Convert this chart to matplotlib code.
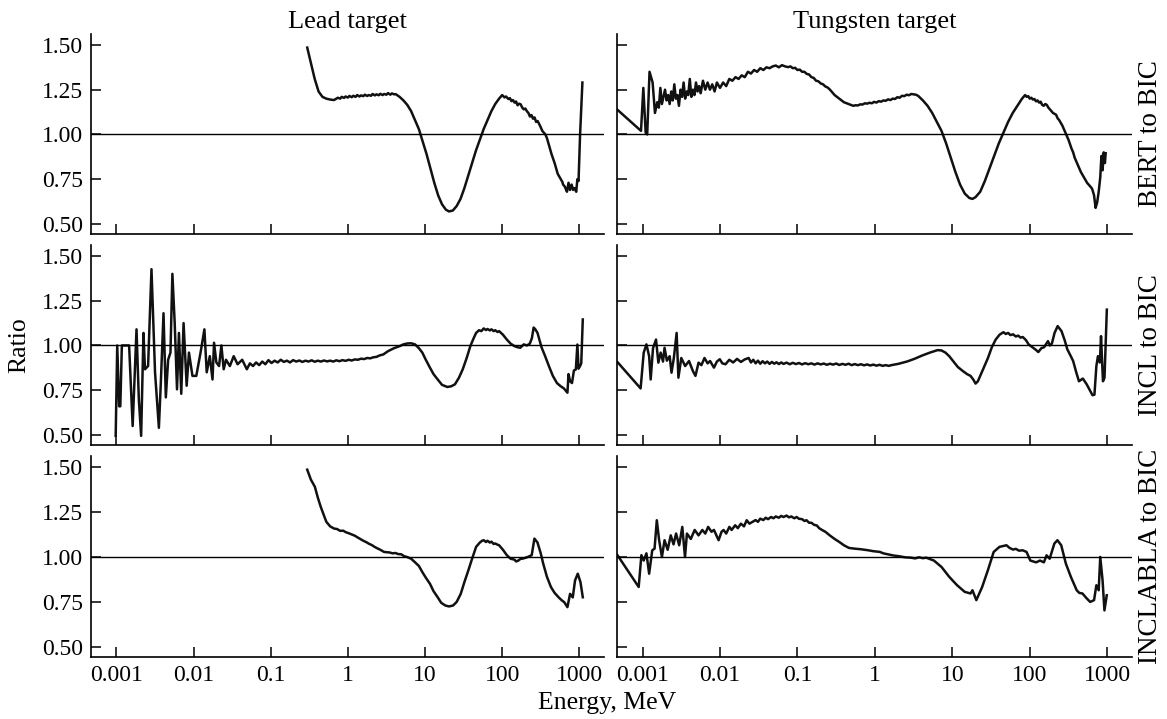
import matplotlib.pyplot as plt
import numpy as np

plt.rcParams['font.family'] = ['Liberation Serif', 'DejaVu Serif']

# (log10 of energy in MeV, ratio) pairs

lead_bert = [(-0.527, 1.485), (-0.48, 1.40), (-0.43, 1.31), (-0.38, 1.24), (-0.33, 1.21), (-0.28, 1.20),
             (-0.23, 1.195), (-0.18, 1.192), (-0.13, 1.205), (-0.10, 1.2), (-0.08, 1.21), (-0.05, 1.204),
             (-0.03, 1.212), (0.0, 1.206), (0.02, 1.215), (0.05, 1.208), (0.07, 1.216), (0.10, 1.21),
             (0.12, 1.22), (0.15, 1.212), (0.17, 1.218), (0.20, 1.214), (0.22, 1.222), (0.25, 1.215),
             (0.27, 1.22), (0.30, 1.216), (0.32, 1.226), (0.35, 1.218), (0.37, 1.224), (0.40, 1.219),
             (0.42, 1.227), (0.45, 1.22), (0.47, 1.226), (0.50, 1.222), (0.52, 1.231), (0.55, 1.222),
             (0.57, 1.229), (0.60, 1.224), (0.62, 1.225), (0.67, 1.21), (0.72, 1.19), (0.77, 1.165),
             (0.82, 1.13), (0.87, 1.08), (0.92, 1.03), (0.97, 0.96), (1.02, 0.89), (1.07, 0.81), (1.12, 0.73),
             (1.17, 0.66), (1.22, 0.61), (1.27, 0.58), (1.31, 0.57), (1.36, 0.575), (1.41, 0.60), (1.46, 0.64),
             (1.51, 0.70), (1.56, 0.77), (1.61, 0.84), (1.66, 0.91), (1.71, 0.97), (1.76, 1.03), (1.81, 1.08),
             (1.86, 1.13), (1.91, 1.17), (1.96, 1.20), (2.00, 1.22), (2.03, 1.207), (2.05, 1.212),
             (2.08, 1.198), (2.10, 1.203), (2.12, 1.186), (2.14, 1.192), (2.16, 1.178), (2.18, 1.184),
             (2.20, 1.163), (2.22, 1.172), (2.24, 1.168), (2.26, 1.15), (2.28, 1.14), (2.30, 1.145),
             (2.32, 1.13), (2.34, 1.12), (2.36, 1.10), (2.38, 1.108), (2.40, 1.088), (2.42, 1.095),
             (2.44, 1.07), (2.46, 1.075), (2.48, 1.058), (2.50, 1.04), (2.52, 1.02), (2.54, 1.01),
             (2.56, 1.00), (2.58, 0.98), (2.60, 0.95), (2.62, 0.92), (2.64, 0.89), (2.66, 0.865),
             (2.68, 0.84), (2.70, 0.81), (2.72, 0.78), (2.74, 0.765), (2.76, 0.75), (2.78, 0.735),
             (2.79, 0.72), (2.81, 0.71), (2.82, 0.70), (2.84, 0.68), (2.86, 0.73), (2.88, 0.69),
             (2.90, 0.72), (2.92, 0.69), (2.94, 0.70), (2.96, 0.68), (2.975, 0.75), (2.99, 0.74),
             (3.01, 1.00), (3.04, 1.29)]

w_bert = [(-3.33, 1.14), (-3.02, 1.02), (-2.99, 1.26), (-2.96, 1.01), (-2.94, 1.00), (-2.91, 1.35),
          (-2.87, 1.29), (-2.84, 1.12), (-2.81, 1.18), (-2.79, 1.15), (-2.77, 1.26), (-2.75, 1.17),
          (-2.73, 1.21), (-2.71, 1.25), (-2.69, 1.19), (-2.67, 1.22), (-2.65, 1.17), (-2.63, 1.24),
          (-2.61, 1.19), (-2.59, 1.28), (-2.57, 1.20), (-2.55, 1.22), (-2.53, 1.16), (-2.51, 1.25),
          (-2.49, 1.21), (-2.47, 1.29), (-2.45, 1.20), (-2.43, 1.24), (-2.41, 1.22), (-2.39, 1.31),
          (-2.37, 1.21), (-2.35, 1.25), (-2.33, 1.22), (-2.31, 1.29), (-2.29, 1.24), (-2.27, 1.27),
          (-2.25, 1.23), (-2.22, 1.30), (-2.19, 1.25), (-2.16, 1.29), (-2.13, 1.25), (-2.10, 1.28),
          (-2.07, 1.24), (-2.04, 1.29), (-2.00, 1.26), (-1.96, 1.29), (-1.92, 1.27), (-1.88, 1.31),
          (-1.84, 1.30), (-1.80, 1.32), (-1.76, 1.31), (-1.72, 1.33), (-1.68, 1.32), (-1.64, 1.35),
          (-1.60, 1.34), (-1.56, 1.36), (-1.52, 1.35), (-1.48, 1.37), (-1.44, 1.36), (-1.40, 1.375),
          (-1.36, 1.37), (-1.32, 1.38), (-1.28, 1.385), (-1.24, 1.375), (-1.20, 1.387), (-1.16, 1.38),
          (-1.12, 1.376), (-1.09, 1.38), (-1.06, 1.37), (-1.03, 1.372), (-1.00, 1.36), (-0.97, 1.362),
          (-0.94, 1.35), (-0.91, 1.35), (-0.88, 1.338), (-0.85, 1.335), (-0.82, 1.32), (-0.79, 1.316),
          (-0.76, 1.30), (-0.73, 1.297), (-0.70, 1.285), (-0.67, 1.28), (-0.64, 1.268), (-0.61, 1.262),
          (-0.58, 1.25), (-0.55, 1.235), (-0.52, 1.22), (-0.49, 1.21), (-0.46, 1.20), (-0.43, 1.19),
          (-0.40, 1.18), (-0.34, 1.17), (-0.28, 1.16), (-0.25, 1.163), (-0.22, 1.162), (-0.19, 1.168),
          (-0.16, 1.167), (-0.13, 1.174), (-0.10, 1.172), (-0.07, 1.177), (-0.04, 1.174), (-0.01, 1.182),
          (0.02, 1.178), (0.05, 1.186), (0.08, 1.183), (0.11, 1.19), (0.14, 1.188), (0.17, 1.196),
          (0.20, 1.192), (0.23, 1.2), (0.26, 1.198), (0.29, 1.208), (0.32, 1.205), (0.35, 1.216),
          (0.38, 1.214), (0.41, 1.222), (0.44, 1.219), (0.47, 1.226), (0.50, 1.224), (0.53, 1.222),
          (0.56, 1.215), (0.62, 1.19), (0.68, 1.16), (0.74, 1.12), (0.80, 1.07), (0.86, 1.02), (0.92, 0.95),
          (0.98, 0.87), (1.04, 0.79), (1.10, 0.72), (1.16, 0.67), (1.22, 0.645), (1.26, 0.64), (1.30, 0.65),
          (1.36, 0.68), (1.42, 0.74), (1.48, 0.81), (1.54, 0.88), (1.60, 0.95), (1.66, 1.01), (1.72, 1.07),
          (1.78, 1.12), (1.84, 1.16), (1.90, 1.20), (1.94, 1.22), (1.96, 1.21), (1.98, 1.214), (2.00, 1.2),
          (2.02, 1.205), (2.04, 1.195), (2.06, 1.198), (2.08, 1.185), (2.10, 1.19), (2.12, 1.178),
          (2.14, 1.183), (2.16, 1.165), (2.18, 1.16), (2.20, 1.17), (2.22, 1.165), (2.24, 1.15),
          (2.26, 1.14), (2.28, 1.13), (2.30, 1.12), (2.32, 1.115), (2.34, 1.11), (2.36, 1.09),
          (2.38, 1.08), (2.40, 1.065), (2.42, 1.05), (2.44, 1.03), (2.46, 1.01), (2.48, 0.99),
          (2.50, 0.97), (2.52, 0.945), (2.54, 0.92), (2.56, 0.9), (2.58, 0.87), (2.60, 0.85),
          (2.62, 0.83), (2.64, 0.81), (2.66, 0.79), (2.68, 0.775), (2.70, 0.76), (2.72, 0.745),
          (2.74, 0.73), (2.76, 0.72), (2.78, 0.71), (2.80, 0.7), (2.81, 0.69), (2.83, 0.66), (2.85, 0.59),
          (2.87, 0.62), (2.89, 0.68), (2.91, 0.76), (2.925, 0.88), (2.94, 0.80), (2.955, 0.90),
          (2.97, 0.84), (2.98, 0.895)]

lead_incl = [(-3.01, 0.495), (-2.99, 1.00), (-2.965, 0.66), (-2.95, 0.66), (-2.93, 1.00), (-2.836, 1.00),
             (-2.79, 0.55), (-2.74, 1.09), (-2.71, 0.70), (-2.68, 0.495), (-2.65, 1.07), (-2.63, 0.867),
             (-2.59, 0.885), (-2.546, 1.426), (-2.50, 0.85), (-2.45, 0.54), (-2.425, 0.79), (-2.39, 1.18),
             (-2.36, 0.71), (-2.33, 0.92), (-2.30, 0.96), (-2.275, 1.40), (-2.245, 1.125), (-2.215, 0.755),
             (-2.19, 1.07), (-2.16, 0.73), (-2.13, 1.125), (-2.09, 0.775), (-2.06, 0.96), (-2.015, 0.83),
             (-1.965, 0.83), (-1.91, 0.96), (-1.86, 1.09), (-1.83, 0.85), (-1.79, 0.94), (-1.755, 0.81),
             (-1.735, 1.015), (-1.705, 0.905), (-1.67, 0.885), (-1.64, 1.00), (-1.61, 0.867), (-1.58, 0.92),
             (-1.53, 0.885), (-1.48, 0.94), (-1.43, 0.895), (-1.37, 0.92), (-1.31, 0.867), (-1.27, 0.90),
             (-1.23, 0.885), (-1.19, 0.905), (-1.15, 0.89), (-1.11, 0.91), (-1.07, 0.895), (-1.03, 0.918),
             (-0.99, 0.902), (-0.95, 0.915), (-0.91, 0.905), (-0.87, 0.92), (-0.83, 0.908), (-0.79, 0.915),
             (-0.75, 0.905), (-0.71, 0.918), (-0.67, 0.91), (-0.63, 0.916), (-0.59, 0.908), (-0.55, 0.915),
             (-0.51, 0.91), (-0.47, 0.917), (-0.43, 0.909), (-0.39, 0.915), (-0.35, 0.91), (-0.31, 0.916),
             (-0.27, 0.911), (-0.23, 0.915), (-0.19, 0.91), (-0.15, 0.917), (-0.11, 0.912), (-0.07, 0.918),
             (-0.03, 0.914), (0.01, 0.92), (0.05, 0.916), (0.09, 0.922), (0.13, 0.92), (0.17, 0.926),
             (0.21, 0.924), (0.25, 0.93), (0.29, 0.928), (0.33, 0.934), (0.37, 0.936), (0.41, 0.944),
             (0.46, 0.95), (0.52, 0.968), (0.60, 0.985), (0.67, 0.996), (0.72, 1.006), (0.77, 1.011),
             (0.82, 1.012), (0.87, 1.006), (0.92, 0.985), (0.965, 0.96), (1.01, 0.92), (1.065, 0.875),
             (1.11, 0.84), (1.164, 0.81), (1.22, 0.78), (1.289, 0.768), (1.34, 0.772), (1.388, 0.783),
             (1.44, 0.82), (1.488, 0.866), (1.54, 0.93), (1.587, 0.996), (1.63, 1.04), (1.662, 1.07),
             (1.70, 1.085), (1.73, 1.08), (1.761, 1.095), (1.79, 1.086), (1.81, 1.092), (1.84, 1.084),
             (1.861, 1.09), (1.89, 1.08), (1.91, 1.085), (1.94, 1.075), (1.96, 1.08), (2.01, 1.06),
             (2.06, 1.033), (2.11, 1.01), (2.16, 0.996), (2.20, 0.99), (2.234, 0.987), (2.26, 0.998),
             (2.28, 1.006), (2.32, 1.00), (2.358, 1.01), (2.385, 1.04), (2.408, 1.10), (2.43, 1.09),
             (2.458, 1.07), (2.51, 0.99), (2.557, 0.94), (2.61, 0.88), (2.657, 0.83), (2.71, 0.79),
             (2.756, 0.773), (2.80, 0.76), (2.846, 0.736), (2.86, 0.84), (2.88, 0.80), (2.905, 0.79),
             (2.93, 0.86), (2.955, 0.866), (2.975, 1.005), (2.99, 0.87), (3.01, 0.885), (3.025, 0.90),
             (3.045, 1.145)]

w_incl = [(-3.324, 0.907), (-3.025, 0.76), (-2.985, 0.96), (-2.95, 1.006), (-2.915, 0.94), (-2.895, 0.81),
          (-2.865, 0.985), (-2.826, 1.033), (-2.796, 0.904), (-2.766, 0.96), (-2.736, 0.91), (-2.716, 0.987),
          (-2.686, 0.915), (-2.65, 0.94), (-2.626, 0.848), (-2.596, 0.93), (-2.56, 1.07), (-2.537, 0.82),
          (-2.50, 0.93), (-2.45, 0.885), (-2.40, 0.913), (-2.35, 0.857), (-2.317, 0.83), (-2.277, 0.904),
          (-2.24, 0.89), (-2.20, 0.93), (-2.16, 0.9), (-2.128, 0.913), (-2.078, 0.876), (-2.04, 0.91),
          (-2.003, 0.923), (-1.97, 0.9), (-1.929, 0.895), (-1.88, 0.92), (-1.83, 0.905), (-1.78, 0.925),
          (-1.73, 0.908), (-1.68, 0.922), (-1.63, 0.93), (-1.60, 0.905), (-1.57, 0.92), (-1.54, 0.90),
          (-1.51, 0.915), (-1.48, 0.898), (-1.45, 0.912), (-1.42, 0.90), (-1.39, 0.91), (-1.36, 0.897),
          (-1.33, 0.908), (-1.30, 0.898), (-1.27, 0.906), (-1.24, 0.896), (-1.21, 0.905), (-1.18, 0.897),
          (-1.14, 0.904), (-1.10, 0.895), (-1.06, 0.903), (-1.02, 0.896), (-0.98, 0.902), (-0.94, 0.894),
          (-0.90, 0.901), (-0.86, 0.895), (-0.82, 0.90), (-0.78, 0.893), (-0.74, 0.90), (-0.70, 0.894),
          (-0.66, 0.899), (-0.62, 0.892), (-0.58, 0.898), (-0.54, 0.893), (-0.50, 0.899), (-0.46, 0.891),
          (-0.42, 0.897), (-0.38, 0.892), (-0.34, 0.898), (-0.30, 0.89), (-0.26, 0.896), (-0.22, 0.89),
          (-0.18, 0.895), (-0.14, 0.889), (-0.10, 0.894), (-0.06, 0.888), (-0.02, 0.893), (0.02, 0.887),
          (0.06, 0.892), (0.10, 0.886), (0.14, 0.89), (0.18, 0.886), (0.213, 0.89), (0.30, 0.897),
          (0.413, 0.91), (0.51, 0.925), (0.612, 0.944), (0.71, 0.96), (0.81, 0.974), (0.86, 0.972),
          (0.911, 0.96), (0.96, 0.94), (1.01, 0.913), (1.07, 0.88), (1.136, 0.857), (1.19, 0.84),
          (1.235, 0.83), (1.27, 0.81), (1.30, 0.787), (1.33, 0.80), (1.36, 0.83), (1.41, 0.88), (1.46, 0.93),
          (1.51, 0.99), (1.56, 1.033), (1.61, 1.06), (1.66, 1.074), (1.69, 1.064), (1.72, 1.07),
          (1.75, 1.058), (1.785, 1.062), (1.82, 1.05), (1.85, 1.055), (1.88, 1.044), (1.91, 1.047),
          (1.95, 1.03), (1.985, 1.006), (2.035, 0.99), (2.08, 0.975), (2.11, 0.963), (2.15, 0.985),
          (2.185, 0.99), (2.235, 1.024), (2.26, 1.00), (2.285, 1.01), (2.32, 1.07), (2.36, 1.108),
          (2.41, 1.08), (2.45, 1.03), (2.485, 0.978), (2.53, 0.94), (2.56, 0.913), (2.60, 0.85),
          (2.635, 0.80), (2.685, 0.815), (2.735, 0.783), (2.775, 0.75), (2.81, 0.722), (2.835, 0.725),
          (2.86, 0.885), (2.88, 0.94), (2.905, 0.905), (2.92, 1.052), (2.945, 0.80), (2.965, 0.82),
          (2.995, 1.20)]

lead_incla = [(-0.527, 1.485), (-0.48, 1.43), (-0.428, 1.39), (-0.39, 1.33), (-0.353, 1.28), (-0.31, 1.23),
              (-0.279, 1.195), (-0.23, 1.17), (-0.18, 1.158), (-0.14, 1.155), (-0.10, 1.145), (-0.06, 1.146),
              (-0.03, 1.138), (0.01, 1.132), (0.05, 1.125), (0.09, 1.118), (0.12, 1.11), (0.16, 1.1),
              (0.20, 1.09), (0.24, 1.082), (0.27, 1.074), (0.31, 1.066), (0.35, 1.055), (0.39, 1.046),
              (0.42, 1.04), (0.468, 1.028), (0.51, 1.026), (0.54, 1.025), (0.58, 1.02), (0.617, 1.022),
              (0.65, 1.016), (0.69, 1.015), (0.73, 1.004), (0.766, 1.0), (0.82, 0.99), (0.866, 0.972),
              (0.92, 0.95), (0.965, 0.916), (1.01, 0.885), (1.065, 0.85), (1.11, 0.81), (1.164, 0.776),
              (1.21, 0.745), (1.264, 0.73), (1.31, 0.725), (1.363, 0.73), (1.41, 0.75), (1.463, 0.795),
              (1.51, 0.86), (1.562, 0.926), (1.61, 0.99), (1.662, 1.056), (1.71, 1.08), (1.74, 1.09),
              (1.761, 1.093), (1.79, 1.083), (1.81, 1.09), (1.84, 1.08), (1.861, 1.085), (1.89, 1.072),
              (1.91, 1.075), (1.94, 1.068), (1.96, 1.065), (2.01, 1.04), (2.06, 1.01), (2.11, 0.99),
              (2.16, 0.985), (2.18, 0.975), (2.21, 0.98), (2.24, 0.99), (2.259, 0.99), (2.30, 0.995),
              (2.333, 1.0), (2.383, 1.01), (2.418, 1.102), (2.458, 1.08), (2.50, 1.02), (2.532, 0.963),
              (2.58, 0.89), (2.632, 0.833), (2.68, 0.80), (2.731, 0.776), (2.77, 0.76), (2.806, 0.748),
              (2.846, 0.721), (2.88, 0.795), (2.915, 0.775), (2.945, 0.87), (2.98, 0.907), (3.015, 0.86),
              (3.045, 0.776)]

w_incla = [(-3.324, 1.01), (-3.05, 0.833), (-3.015, 1.01), (-2.985, 0.98), (-2.95, 1.02), (-2.915, 0.907),
           (-2.875, 1.037), (-2.845, 1.046), (-2.816, 1.204), (-2.786, 1.093), (-2.75, 1.0), (-2.716, 1.093),
           (-2.676, 1.04), (-2.636, 1.12), (-2.60, 1.07), (-2.567, 1.13), (-2.527, 1.065), (-2.487, 1.167),
           (-2.452, 1.0), (-2.427, 1.13), (-2.377, 1.10), (-2.327, 1.15), (-2.277, 1.12), (-2.228, 1.15),
           (-2.19, 1.13), (-2.153, 1.167), (-2.11, 1.14), (-2.078, 1.15), (-2.018, 1.093), (-1.98, 1.14),
           (-1.954, 1.15), (-1.92, 1.13), (-1.879, 1.167), (-1.85, 1.15), (-1.804, 1.176), (-1.77, 1.16),
           (-1.73, 1.185), (-1.69, 1.17), (-1.655, 1.204), (-1.62, 1.185), (-1.58, 1.195), (-1.54, 1.205),
           (-1.51, 1.195), (-1.48, 1.213), (-1.44, 1.205), (-1.41, 1.218), (-1.38, 1.21), (-1.34, 1.222),
           (-1.31, 1.215), (-1.28, 1.225), (-1.24, 1.218), (-1.21, 1.228), (-1.18, 1.222), (-1.14, 1.23),
           (-1.11, 1.22), (-1.08, 1.225), (-1.04, 1.215), (-1.01, 1.222), (-0.98, 1.212), (-0.94, 1.21),
           (-0.91, 1.2), (-0.882, 1.204), (-0.85, 1.19), (-0.82, 1.19), (-0.783, 1.178), (-0.75, 1.175),
           (-0.72, 1.16), (-0.683, 1.15), (-0.64, 1.14), (-0.583, 1.12), (-0.52, 1.1), (-0.459, 1.083),
           (-0.40, 1.065), (-0.334, 1.05), (-0.26, 1.046), (-0.185, 1.043), (-0.13, 1.04), (-0.085, 1.037),
           (-0.02, 1.032), (0.064, 1.028), (0.11, 1.02), (0.164, 1.015), (0.24, 1.008), (0.313, 1.004),
           (0.39, 0.998), (0.463, 0.996), (0.52, 0.992), (0.57, 0.998), (0.62, 0.993), (0.662, 0.996),
           (0.762, 0.98), (0.861, 0.944), (0.961, 0.889), (1.061, 0.843), (1.16, 0.806), (1.235, 0.797),
           (1.26, 0.815), (1.31, 0.76), (1.385, 0.833), (1.459, 0.926), (1.534, 1.028), (1.609, 1.056),
           (1.699, 1.065), (1.74, 1.05), (1.783, 1.041), (1.82, 1.045), (1.86, 1.035), (1.908, 1.037),
           (1.958, 1.028), (2.007, 0.98), (2.082, 0.97), (2.132, 0.98), (2.182, 0.97), (2.217, 1.009),
           (2.257, 0.99), (2.317, 1.074), (2.357, 1.093), (2.406, 1.065), (2.466, 0.963), (2.531, 0.889),
           (2.606, 0.815), (2.64, 0.8), (2.68, 0.797), (2.73, 0.772), (2.78, 0.75), (2.83, 0.76),
           (2.86, 0.843), (2.89, 0.815), (2.91, 1.0), (2.94, 0.87), (2.964, 0.703), (2.994, 0.787)]

curves = [[lead_bert, w_bert], [lead_incl, w_incl], [lead_incla, w_incla]]
row_labels = ["BERT to BIC", "INCL to BIC", "INCLABLA to BIC"]
col_titles = ["Lead target", "Tungsten target"]
yticks = [0.50, 0.75, 1.00, 1.25, 1.50]
xticks = [0.001, 0.01, 0.1, 1, 10, 100, 1000]
xtick_labels = ["0.001", "0.01", "0.1", "1", "10", "100", "1000"]

W, H = 1167, 719
fig = plt.figure(figsize=(W / 100, H / 100), dpi=100)

cols_px = [(91, 604), (617, 1132)]
rows_px = [(34, 234), (245, 445), (456, 657)]

for r in range(3):
    for c in range(2):
        x0, x1 = cols_px[c]
        y0, y1 = rows_px[r]
        ax = fig.add_axes([x0 / W, 1 - y1 / H, (x1 - x0) / W, (y1 - y0) / H])
        lg, val = zip(*curves[r][c])
        ax.plot(10 ** np.array(lg), val, color="#111111", lw=1.8)
        ax.axhline(1.0, color="black", lw=1.0)
        ax.set_xscale("log")
        ax.set_xlim(10 ** -3.33, 10 ** 3.32)
        ax.set_ylim(0.444, 1.561)
        ax.spines["top"].set_visible(False)
        ax.spines["right"].set_visible(False)
        for s in ["left", "bottom"]:
            ax.spines[s].set_linewidth(1.2)
        ax.set_xticks(xticks)
        ax.minorticks_off()
        ax.set_yticks(yticks)
        ax.tick_params(direction="in", length=7.5, width=1.1, labelsize=17, pad=6)
        if c == 0:
            ax.set_yticklabels(["%.2f" % v for v in yticks])
        else:
            ax.set_yticklabels([])
        if r == 2:
            ax.set_xticklabels(xtick_labels)
        else:
            ax.set_xticklabels([])
        if r == 0:
            ax.set_title(col_titles[c], fontsize=19, pad=4)
        if c == 1:
            ax.text(1.035, 0.5, row_labels[r], transform=ax.transAxes, rotation=90,
                    ha="center", va="center", fontsize=19.5)

fig.text(19 / W, 1 - 345 / H, "Ratio", rotation=90, ha="center", va="center", fontsize=18.5)
fig.text(607 / W, 1 - 703 / H, "Energy, MeV", ha="center", va="center", fontsize=18.5)

plt.savefig("out.png", dpi=100)
